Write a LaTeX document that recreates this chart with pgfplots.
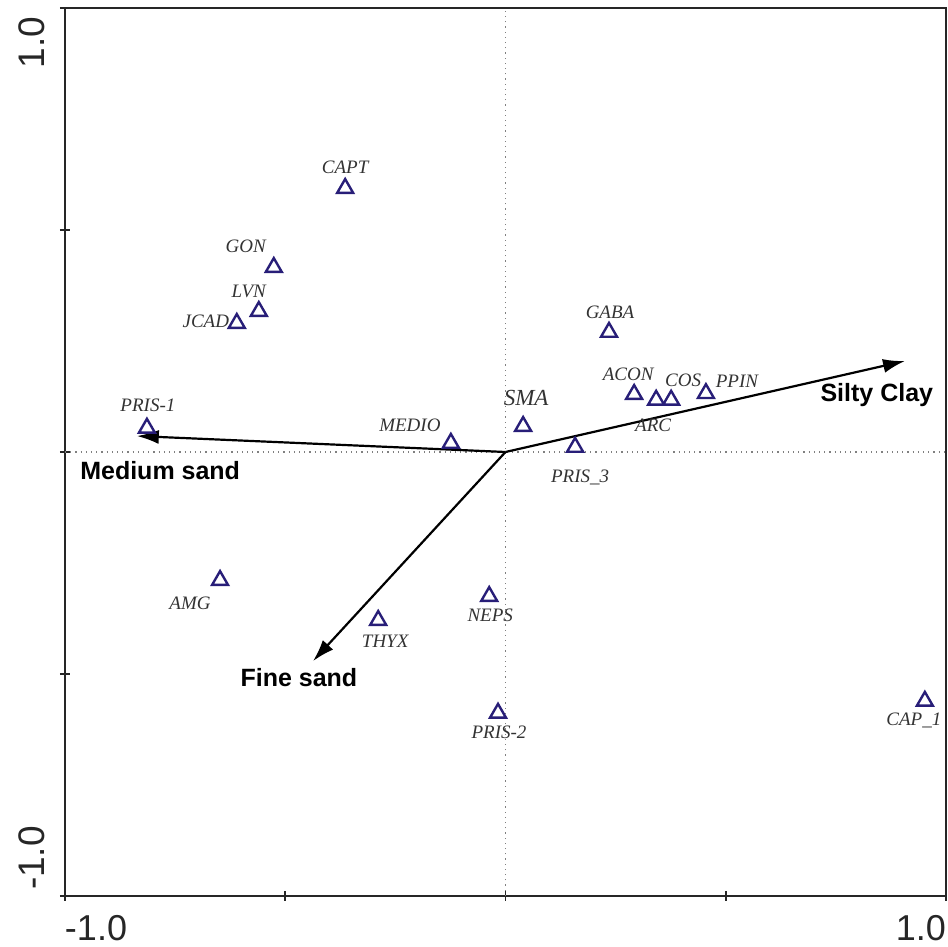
\documentclass[border=0pt]{standalone}
\usepackage{fontspec}
\setmainfont{Liberation Serif}
\newfontfamily\arialfont{Liberation Sans}
\usepackage{pgfplots}
\pgfplotsset{compat=1.18}
\usepackage{pgfplotstable}
\usetikzlibrary{arrows.meta}
\definecolor{tri}{RGB}{40,30,120}

\pgfplotstableread{
x y dx dy label
-0.364 0.594 0 10.6 CAPT
-0.526 0.416 -14 10.6 GON
-0.560 0.317 -5 10.1 LVN
-0.610 0.290 -15.5 1.1 JCAD
-0.814 0.054 0.5 11.6 PRIS-1
-0.124 0.020 -20.5 9.1 MEDIO
0.158 0.011 2.5 -15.4 PRIS\_3
0.235 0.270 0.5 10.1 GABA
0.292 0.130 -3 10.1 ACON
0.342 0.117 -1.5 -12.4 ARC
0.376 0.117 6 10.1 COS
0.455 0.132 15.5 6.1 PPIN
-0.648 -0.289 -15 -11.4 AMG
-0.289 -0.379 3.5 -10.4 THYX
-0.037 -0.325 0.5 -9.4 NEPS
-0.017 -0.588 0.5 -9.4 PRIS-2
0.952 -0.561 -5.5 -9.9 CAP\_1
}\species

\pgfplotstableread{
x y dx dy label
0.040 0.058 1.5 14.1 SMA
}\sma

\begin{document}
\begin{tikzpicture}
\begin{axis}[
  at={(0,0)}, anchor=south west,
  scale only axis, width=440.5pt, height=444pt,
  xmin=-1, xmax=1, ymin=-1, ymax=1,
  clip=false,
  axis line style={line width=1pt, black!85},
  tick pos=left, tick align=center, major tick length=5pt,
  tick style={line width=0.8pt, black!85},
  xtick={-1,-0.5,0,0.5,1}, ytick={-1,-0.5,0,0.5,1},
  xticklabels={\makebox[0pt][l]{-1.0},,,,\makebox[0pt][r]{1.0}},
  yticklabels={\makebox[0pt][l]{\hspace{3pt}-1.0},,,,\makebox[0pt][r]{1.0\hspace{4.5pt}}},
  xticklabel style={anchor=north, inner sep=0pt, font=\arialfont\fontsize{18}{20}\selectfont, text=black!85},
  yticklabel style={rotate=90, anchor=south, inner sep=0pt, font=\arialfont\fontsize{18.5}{21}\selectfont, text=black!85},
  xticklabel shift=7pt, yticklabel shift=7.5pt,
]
\addplot[gray, dotted, line width=0.6pt] coordinates {(-1,0) (1,0)};
\addplot[gray, dotted, line width=0.6pt] coordinates {(0,-1) (0,1)};

\addplot[black, line width=1.1pt, -{Latex[length=11pt,width=7pt]}] coordinates {(0,0) (0.907,0.205)};
\addplot[black, line width=1.1pt, -{Latex[length=11pt,width=7pt]}] coordinates {(0,0) (-0.837,0.036)};
\addplot[black, line width=1.1pt, -{Latex[length=11pt,width=7pt]}] coordinates {(0,0) (-0.437,-0.471)};

\node[font=\arialfont\bfseries\fontsize{12.5}{15}\selectfont] at (axis cs:0.843,0.128) {Silty Clay};
\node[font=\arialfont\bfseries\fontsize{12.5}{15}\selectfont] at (axis cs:-0.784,-0.041) {Medium sand};
\node[font=\arialfont\bfseries\fontsize{12.5}{15}\selectfont] at (axis cs:-0.469,-0.507) {Fine sand};

\addplot[only marks, color=tri, mark=triangle, mark size=4.6pt, mark options={solid, line width=1.2pt},
  nodes near coords, point meta=explicit symbolic,
  visualization depends on={\thisrow{dx}\as\myDX},
  visualization depends on={\thisrow{dy}\as\myDY},
  every node near coord/.append style={anchor=center, xshift=\myDX, yshift=\myDY,
    font=\itshape\fontsize{9.5}{11}\selectfont, text=black!80, inner sep=0pt}]
  table[x=x, y=y, meta=label] {\species};

\addplot[only marks, color=tri, mark=triangle, mark size=4.6pt, mark options={solid, line width=1.2pt},
  nodes near coords, point meta=explicit symbolic,
  visualization depends on={\thisrow{dx}\as\myDX},
  visualization depends on={\thisrow{dy}\as\myDY},
  every node near coord/.append style={anchor=center, xshift=\myDX, yshift=\myDY,
    font=\itshape\fontsize{11.5}{13}\selectfont, text=black!80, inner sep=0pt}]
  table[x=x, y=y, meta=label] {\sma};
\end{axis}
\pgfresetboundingbox
\path (-32.5pt,-25.5pt) rectangle (441.5pt,448pt);
\end{tikzpicture}
\end{document}
